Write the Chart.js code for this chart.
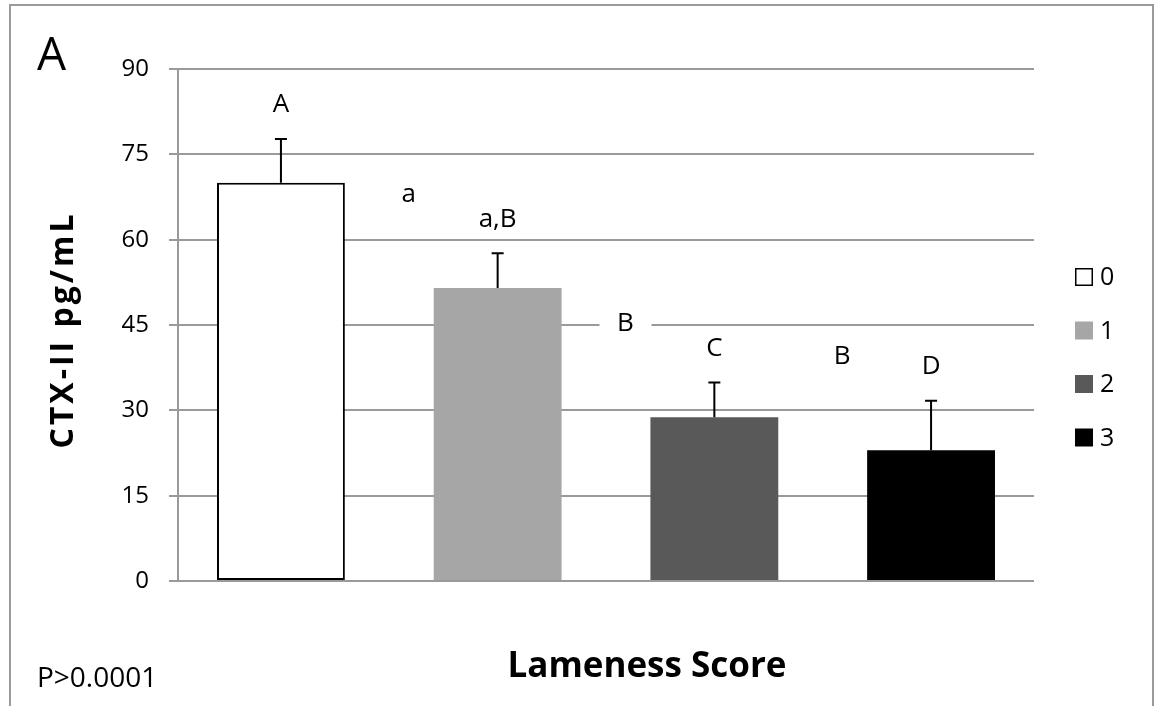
<!DOCTYPE html>
<html>
<head>
<meta charset="utf-8">
<title>CTX-II by Lameness Score</title>
<script src="https://cdn.jsdelivr.net/npm/chart.js@4/dist/chart.umd.min.js"></script>
<style>
  html, body { margin: 0; padding: 0; background: #fff; }
  canvas { display: block; }
</style>
</head>
<body>
<canvas id="chart" width="1161" height="706"></canvas>
<script>
// Lameness score groups and CTX-II concentrations (pg/mL)
const lamenessScores = ['0', '1', '2', '3'];
const meanCTX = [70.0, 51.5, 28.8, 23.0];
const errorCTX = [7.7, 6.1, 6.1, 8.7];

// Significance letters: one over each bar, and the pairwise ones between bars
const groupLetters = ['A', 'a,B', 'C', 'D'];
const pairLetters = ['a', 'B', 'B'];
const pairLetterLevels = [68.0, 45.2, 39.4];

const yTicks = [0, 15, 30, 45, 60, 75, 90];
const barColors = ['#ffffff', '#a6a6a6', '#595959', '#000000'];

const FONT = '"Open Sans", "DejaVu Sans", sans-serif';
const GRID = '#9a9a9a';

// Frame, error bars, letters, legend and titles
const decorations = {
  id: 'decorations',
  beforeDraw(chart) {
    const { ctx } = chart;
    ctx.save();
    ctx.fillStyle = '#fff';
    ctx.fillRect(0, 0, chart.width, chart.height);
    ctx.strokeStyle = GRID;
    ctx.lineWidth = 2;
    ctx.strokeRect(10, 5, 1143, 730);
    ctx.restore();
  },
  afterDatasetsDraw(chart) {
    const { ctx, scales: { x, y } } = chart;
    const meta = chart.getDatasetMeta(0);
    ctx.save();
    ctx.textAlign = 'center';
    ctx.textBaseline = 'middle';
    meta.data.forEach((bar, i) => {
      const base = y.getPixelForValue(meanCTX[i]);
      const top = y.getPixelForValue(meanCTX[i] + errorCTX[i]);
      ctx.strokeStyle = '#000';
      ctx.lineWidth = 2;
      ctx.beginPath();
      ctx.moveTo(bar.x, base);
      ctx.lineTo(bar.x, top);
      ctx.moveTo(bar.x - 6, top);
      ctx.lineTo(bar.x + 6, top);
      ctx.stroke();
      ctx.fillStyle = '#000';
      ctx.font = '26px ' + FONT;
      ctx.fillText(groupLetters[i], bar.x, top - 34);
    });
    pairLetters.forEach((t, i) => {
      const px = x.getPixelForValue(i + 0.59);
      const py = y.getPixelForValue(pairLetterLevels[i]);
      ctx.fillStyle = '#fff';
      ctx.fillRect(px - 26, py - 14, 52, 28);
      ctx.fillStyle = '#000';
      ctx.font = '26px ' + FONT;
      ctx.fillText(t, px, py);
    });
    ctx.restore();
  },
  afterDraw(chart) {
    const { ctx } = chart;
    ctx.save();
    // legend
    lamenessScores.forEach((lbl, i) => {
      const cy = 277 + i * 53.5;
      ctx.fillStyle = barColors[i];
      ctx.fillRect(1075, cy - 9, 18, 18);
      if (i === 0) {
        ctx.strokeStyle = '#000';
        ctx.lineWidth = 1.5;
        ctx.strokeRect(1075.75, cy - 8.25, 16.5, 16.5);
      }
      ctx.fillStyle = '#000';
      ctx.font = '25px ' + FONT;
      ctx.textAlign = 'left';
      ctx.textBaseline = 'middle';
      ctx.fillText(lbl, 1100, cy + 1);
    });
    // x axis title
    ctx.fillStyle = '#000';
    ctx.font = 'bold 35px ' + FONT;
    ctx.textAlign = 'center';
    ctx.textBaseline = 'alphabetic';
    ctx.fillText('Lameness Score', 647, 677);
    // y axis title
    ctx.save();
    ctx.translate(64, 330);
    ctx.rotate(-Math.PI / 2);
    ctx.font = 'bold 32px ' + FONT;
    if ('letterSpacing' in ctx) ctx.letterSpacing = '3px';
    ctx.textAlign = 'center';
    ctx.textBaseline = 'middle';
    ctx.fillText('CTX-II pg/mL', 0, 0);
    ctx.restore();
    // panel letter and p value
    ctx.textAlign = 'left';
    ctx.textBaseline = 'alphabetic';
    ctx.font = '46px ' + FONT;
    ctx.fillText('A', 37, 70);
    ctx.font = '28px ' + FONT;
    ctx.fillText('P>0.0001', 37, 687);
    ctx.restore();
  }
};

function build() {
  new Chart(document.getElementById('chart'), {
    type: 'bar',
    data: {
      labels: lamenessScores,
      datasets: [{
        label: 'CTX-II pg/mL',
        data: meanCTX.map((v, i) => ({ x: i, y: v })),
        backgroundColor: barColors,
        borderColor: '#000',
        borderWidth: [2, 0, 0, 0],
        borderSkipped: false,
        barPercentage: 0.59,
        categoryPercentage: 1
      }]
    },
    options: {
      responsive: false,
      animation: false,
      layout: { padding: { top: 69, bottom: 125, left: 0, right: 127 } },
      plugins: { legend: { display: false }, tooltip: { enabled: false } },
      scales: {
        x: {
          type: 'linear',
          min: -0.475,
          max: 3.475,
          offset: false,
          display: false,
          afterBuildTicks(scale) { scale.ticks = lamenessScores.map((_, i) => ({ value: i })); }
        },
        y: {
          min: 0,
          max: 90,
          afterFit(scale) { scale.width = 178; },
          afterBuildTicks(scale) { scale.ticks = yTicks.map(v => ({ value: v })); },
          ticks: { padding: 20, color: '#000', font: { family: FONT, size: 24 } },
          grid: { color: GRID, lineWidth: 2, tickLength: 9, drawTicks: true },
          border: { color: GRID, width: 2 }
        }
      }
    },
    plugins: [decorations]
  });
}

Promise.all([
  document.fonts.load('24px "Open Sans"'),
  document.fonts.load('bold 24px "Open Sans"')
]).catch(() => {}).then(build);
</script>
</body>
</html>
